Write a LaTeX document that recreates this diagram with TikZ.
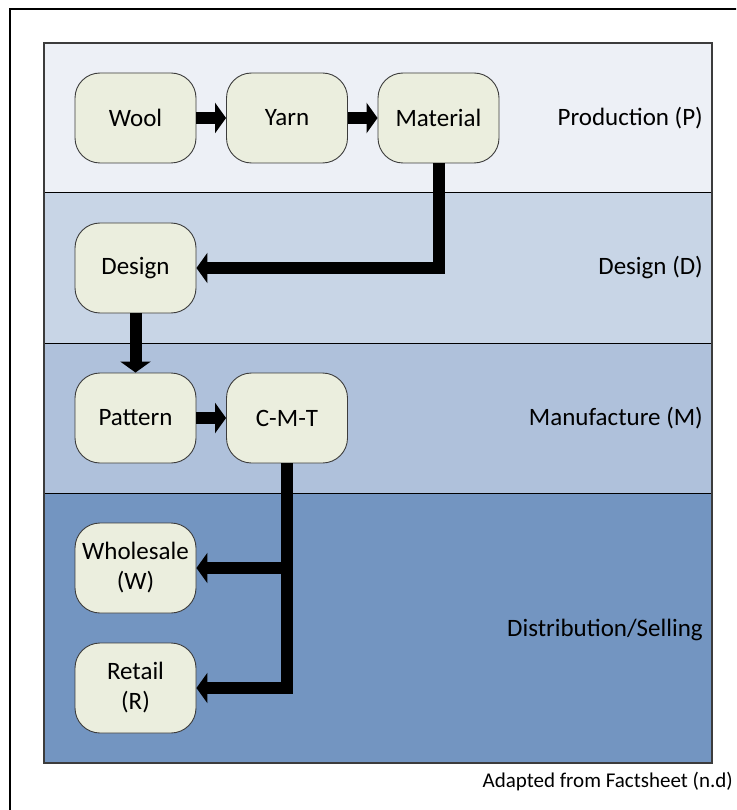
\documentclass[tikz,border=0pt]{standalone}
\usepackage{fontspec}
\setmainfont{Carlito}
\usetikzlibrary{arrows.meta}

\definecolor{bandP}{RGB}{237,240,246}
\definecolor{bandD}{RGB}{200,213,230}
\definecolor{bandM}{RGB}{175,193,219}
\definecolor{bandS}{RGB}{115,149,193}
\definecolor{boxfill}{RGB}{235,238,222}
\definecolor{edge}{RGB}{60,60,60}

\tikzset{
  stagebox/.style={draw=edge, line width=0.9pt, fill=boxfill, rounded corners=25pt,
    minimum width=121pt, minimum height=90pt, inner sep=0pt, align=center,
    font=\fontsize{25}{30}\selectfont},
  bandlabel/.style={anchor=east, inner sep=0pt, font=\fontsize{25}{30}\selectfont},
  flow/.style={line width=12pt, line join=miter, draw=black,
    -{Triangle[length=11pt,width=30pt]}},
}

\begin{document}
\begin{tikzpicture}[x=1pt,y=-1pt]
  \useasboundingbox (0,0) rectangle (736,810);
  \fill[white] (0,0) rectangle (736,810);
  \begin{scope}
    \clip (0,0) rectangle (736,810);
    % outer frame
    \draw[line width=1.5pt] (10,9) rectangle (760,830);
  \end{scope}

  % stage bands
  \fill[bandP] (44,43) rectangle (712,193);
  \fill[bandD] (44,193) rectangle (712,343);
  \fill[bandM] (44,343) rectangle (712,493);
  \fill[bandS] (44,493) rectangle (712,763);
  \draw[line width=1pt] (44,193) -- (712,193);
  \draw[line width=1pt] (44,343) -- (712,343);
  \draw[line width=1pt] (44,493) -- (712,493);
  \draw[edge, line width=1.5pt] (44,43) rectangle (712,763);

  % stage names
  \node[bandlabel] (lp) at (703,118) {Production (P)};
  \node[bandlabel] (ld) at (703,268) {Design (D)};
  \node[bandlabel] (lm) at (703,418) {Manufacture (M)};
  \node[bandlabel] (ls) at (703,630) {Distribution/Selling};

  % process steps
  \node[stagebox] (wool) at (135.5,118) {Wool};
  \node[stagebox] (yarn) at (287,118) {Yarn};
  \node[stagebox] (mat)  at (438.5,118) {Material};
  \node[stagebox] (des)  at (135.5,268) {Design};
  \node[stagebox] (pat)  at (135.5,418) {Pattern};
  \node[stagebox] (cmt)  at (287,418) {C-M-T};
  \node[stagebox] (whs)  at (135.5,568) {Wholesale\\(W)};
  \node[stagebox] (ret)  at (135.5,688) {Retail\\(R)};

  % flow arrows
  \draw[flow] (wool.east) -- (yarn.west);
  \draw[flow] (yarn.east) -- (mat.west);
  \draw[flow] (mat.south) |- (des.east);
  \draw[flow] (des.south) -- (pat.north);
  \draw[flow] (pat.east) -- (cmt.west);
  \draw[flow] (cmt.south) |- (whs.east);
  \draw[flow] (cmt.south) |- (ret.east);

  % source note
  \node[anchor=base east, inner sep=0pt, font=\fontsize{21}{25}\selectfont] (src) at (733,787) {Adapted from Factsheet (n.d)};
\end{tikzpicture}
\end{document}
